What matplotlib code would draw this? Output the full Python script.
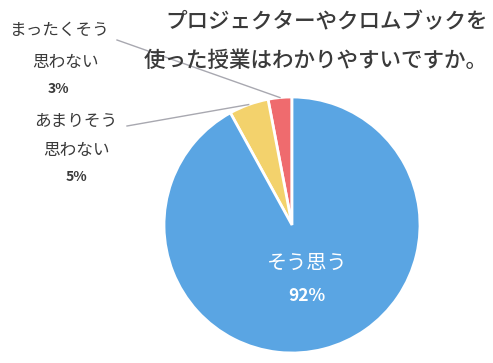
import numpy as np
import matplotlib.pyplot as plt

plt.rcParams['font.family'] = ['Noto Sans CJK JP', 'DejaVu Sans']

labels = ['まったくそう\n思わない', 'あまりそう\n思わない', 'そう思う']
values = [3, 5, 92]
colors = ['#EF6B6E', '#F3D26C', '#5AA5E3']

W, H = 493, 363
fig = plt.figure(figsize=(W / 100, H / 100), dpi=100)
ax = fig.add_axes([0, 0, 1, 1])

cx, cy, r = 292, H - 225, 128
wedges, _ = ax.pie(values, colors=colors, startangle=90, center=(cx, cy), radius=r,
                   wedgeprops=dict(edgecolor='white', linewidth=2), frame=True)
ax.set_xlim(0, W)
ax.set_ylim(0, H)
ax.axis('off')

# title
ax.text(488, H - 22, 'プロジェクターやクロムブックを', ha='right', va='center',
        fontsize=15.5, fontweight='medium', color='#3a3a3a')
ax.text(488, H - 61, '使った授業はわかりやすいですか。', ha='right', va='center',
        fontsize=15.5, fontweight='medium', color='#3a3a3a')

# outside labels with leader lines
label_x = [[60, 65, 58], [76, 76, 76]]
label_y = [[30, 63, 89], [121, 150, 177]]
line_start = [(117, H - 40), (127, H - 126)]
for i in range(2):
    w = wedges[i]
    mid = np.deg2rad((w.theta1 + w.theta2) / 2)
    ex, ey = cx + r * np.cos(mid), cy + r * np.sin(mid)
    name1, name2 = labels[i].split('\n')
    xs, ys = label_x[i], label_y[i]
    ax.text(xs[0], H - ys[0], name1, ha='center', va='center', fontsize=12, color='#3a3a3a')
    ax.text(xs[1], H - ys[1], name2, ha='center', va='center', fontsize=12, color='#3a3a3a')
    ax.text(xs[2], H - ys[2], f'{values[i]}%', ha='center', va='center',
            fontsize=10, fontweight='bold', color='#3a3a3a')
    ax.plot([line_start[i][0], ex], [line_start[i][1], ey], color='#A8A8B0', lw=1)

# inside label
w = wedges[2]
mid = np.deg2rad((w.theta1 + w.theta2) / 2)
tx, ty = cx + 0.4 * r * np.cos(mid), cy + 0.4 * r * np.sin(mid)
ax.text(tx + 2, H - 263, labels[2], ha='center', va='center', fontsize=14.5, color='white')
ax.text(tx + 2, H - 296, f'{values[2]}%', ha='center', va='center', fontsize=12.5,
        fontweight='bold', color='white')

fig.savefig('out.png', dpi=100)
